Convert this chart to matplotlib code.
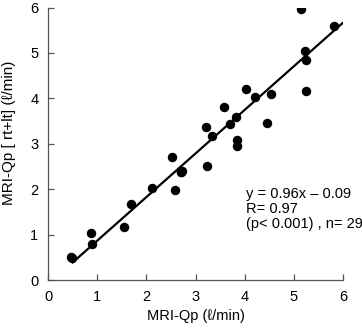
import matplotlib
matplotlib.use("Agg")
import matplotlib.pyplot as plt
import numpy as np

plt.rcParams['font.family'] = ['Liberation Sans', 'DejaVu Sans']

# MRI-Qp (x) vs MRI-Qp [rt+lt] (y)
x_qp = [0.47, 0.49, 0.87, 0.90, 1.54, 1.69, 2.12, 2.52, 2.58, 2.70, 2.73, 2.71,
        3.21, 3.23, 3.33, 3.57, 3.69, 3.83, 3.85, 3.85, 4.02, 4.20, 4.45, 4.54,
        5.15, 5.23, 5.25, 5.25, 5.82]
y_qp = [0.50, 0.49, 1.03, 0.80, 1.17, 1.67, 2.02, 2.71, 1.99, 2.39, 2.41, 2.37,
        3.37, 2.52, 3.18, 3.81, 3.43, 3.59, 3.08, 2.96, 4.21, 4.04, 3.46, 4.09,
        5.96, 5.04, 4.85, 4.17, 5.60]
slope = 0.96
intercept = -0.09
fit_x = [0.5, 6.0]
ticks = [0, 1, 2, 3, 4, 5, 6]

fig = plt.figure(figsize=(3.62, 3.28), dpi=100)
ax = fig.add_axes([0.133, 0.146, 0.815, 0.831])

ax.plot(x_qp, y_qp, 'o', color='black', ms=5.8, mec='black')
fx = np.array(fit_x)
ax.plot(fx, slope * fx + intercept, color='black', lw=1.6)

ax.set_xlim(0, 6)
ax.set_ylim(0, 6)
ax.set_xticks(ticks)
ax.set_yticks(ticks)
ax.spines['top'].set_visible(False)
ax.spines['right'].set_visible(False)
for s in ['left', 'bottom']:
    ax.spines[s].set_color('#555555')
    ax.spines[s].set_linewidth(0.9)
ax.tick_params(direction='in', length=4, width=0.9, color='#555555',
               labelsize=10.5)
ax.tick_params(axis='x', pad=7)
ax.tick_params(axis='y', pad=7)

ax.set_xlabel("MRI-Qp (ℓ/min)", fontsize=10.5, labelpad=4)
ax.set_ylabel("MRI-Qp [ rt+lt] (ℓ/min)", fontsize=11)
ax.yaxis.set_label_coords(-0.11, 0.54)

ax.text(4.02, 2.06, "y = 0.96x \u2013 0.09\nR= 0.97\n(p< 0.001) , n= 29",
        fontsize=10.5, va='top', ha='left', linespacing=1.12)

fig.savefig("out.png", dpi=100)
